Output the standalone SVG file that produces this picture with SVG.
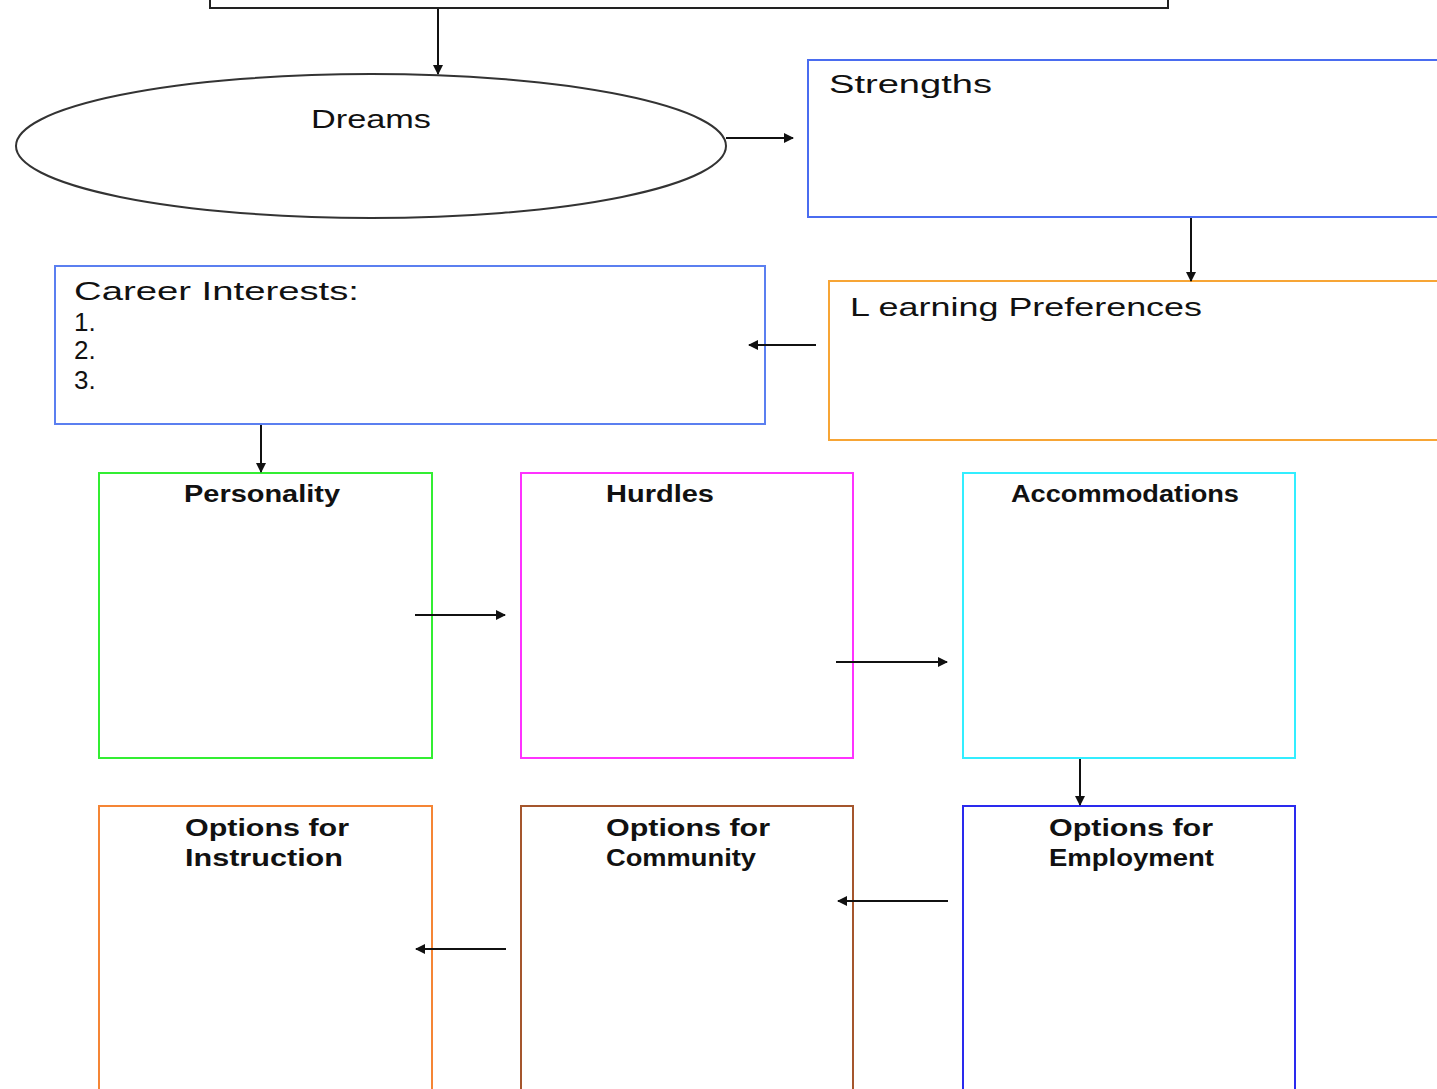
<svg xmlns="http://www.w3.org/2000/svg" width="1437" height="1089" viewBox="0 0 1437 1089">
<style>
.box{fill:none;stroke-width:2}
.t{font-family:"Comic Sans MS","Liberation Sans",sans-serif;font-size:26px;fill:#111}
.b{font-family:"Comic Sans MS","Liberation Sans",sans-serif;font-size:23px;font-weight:bold;fill:#111}
.c{stroke:#111;stroke-width:2;fill:none;marker-end:url(#ah)}
</style>
<defs>
<marker id="ah" viewBox="0 0 10 10" refX="9" refY="5" markerWidth="11" markerHeight="10" markerUnits="userSpaceOnUse" orient="auto">
<path d="M0,0 L10,5 L0,10 z" fill="#111"/>
</marker>
</defs>
<rect width="1437" height="1089" fill="#fff"/>
<g id="top"><rect class="box" x="210" y="-12" width="958" height="20" stroke="#222"/></g>
<g id="dreams"><ellipse class="box" cx="371" cy="146" rx="355" ry="72" stroke="#333"/>
<text class="t" x="311" y="128" textLength="120" lengthAdjust="spacingAndGlyphs">Dreams</text></g>
<g id="strengths"><rect class="box" x="808" y="60" width="640" height="157" stroke="#4a6cf0"/>
<text class="t" x="829" y="93" textLength="163" lengthAdjust="spacingAndGlyphs">Strengths</text></g>
<g id="learning"><rect class="box" x="829" y="281" width="620" height="159" stroke="#f7a535"/>
<text class="t" x="850" y="316" textLength="352" lengthAdjust="spacingAndGlyphs">L earning Preferences</text></g>
<g id="career"><rect class="box" x="55" y="266" width="710" height="158" stroke="#5b7ff0"/>
<text class="t" x="74" y="300" textLength="285" lengthAdjust="spacingAndGlyphs">Career Interests:</text>
<text class="t" x="74" y="331" font-size="22">1.</text>
<text class="t" x="74" y="359" font-size="22">2.</text>
<text class="t" x="74" y="389" font-size="22">3.</text></g>
<g id="personality"><rect class="box" x="99" y="473" width="333" height="285" stroke="#33ee33"/>
<text class="b" x="184" y="502" textLength="156" lengthAdjust="spacingAndGlyphs">Personality</text></g>
<g id="hurdles"><rect class="box" x="521" y="473" width="332" height="285" stroke="#ff33ff"/>
<text class="b" x="606" y="502" textLength="108" lengthAdjust="spacingAndGlyphs">Hurdles</text></g>
<g id="accommodations"><rect class="box" x="963" y="473" width="332" height="285" stroke="#33eeff"/>
<text class="b" x="1011" y="502" textLength="228" lengthAdjust="spacingAndGlyphs">Accommodations</text></g>
<g id="instruction"><rect class="box" x="99" y="806" width="333" height="300" stroke="#f58535"/>
<text class="b" x="185" y="836" textLength="164" lengthAdjust="spacingAndGlyphs">Options for</text>
<text class="b" x="185" y="866" textLength="158" lengthAdjust="spacingAndGlyphs">Instruction</text></g>
<g id="community"><rect class="box" x="521" y="806" width="332" height="300" stroke="#a5562d"/>
<text class="b" x="606" y="836" textLength="164" lengthAdjust="spacingAndGlyphs">Options for</text>
<text class="b" x="606" y="866" textLength="150" lengthAdjust="spacingAndGlyphs">Community</text></g>
<g id="employment"><rect class="box" x="963" y="806" width="332" height="300" stroke="#2a2aee"/>
<text class="b" x="1049" y="836" textLength="164" lengthAdjust="spacingAndGlyphs">Options for</text>
<text class="b" x="1049" y="866" textLength="165" lengthAdjust="spacingAndGlyphs">Employment</text></g>
<g id="connectors">
<line class="c" x1="438" y1="9" x2="438" y2="74"/>
<line class="c" x1="726" y1="138" x2="793" y2="138"/>
<line class="c" x1="1191" y1="218" x2="1191" y2="281"/>
<line class="c" x1="816" y1="345" x2="749" y2="345"/>
<line class="c" x1="261" y1="425" x2="261" y2="472"/>
<line class="c" x1="415" y1="615" x2="505" y2="615"/>
<line class="c" x1="836" y1="662" x2="947" y2="662"/>
<line class="c" x1="1080" y1="759" x2="1080" y2="805"/>
<line class="c" x1="948" y1="901" x2="838" y2="901"/>
<line class="c" x1="506" y1="949" x2="416" y2="949"/>
</g>
</svg>
